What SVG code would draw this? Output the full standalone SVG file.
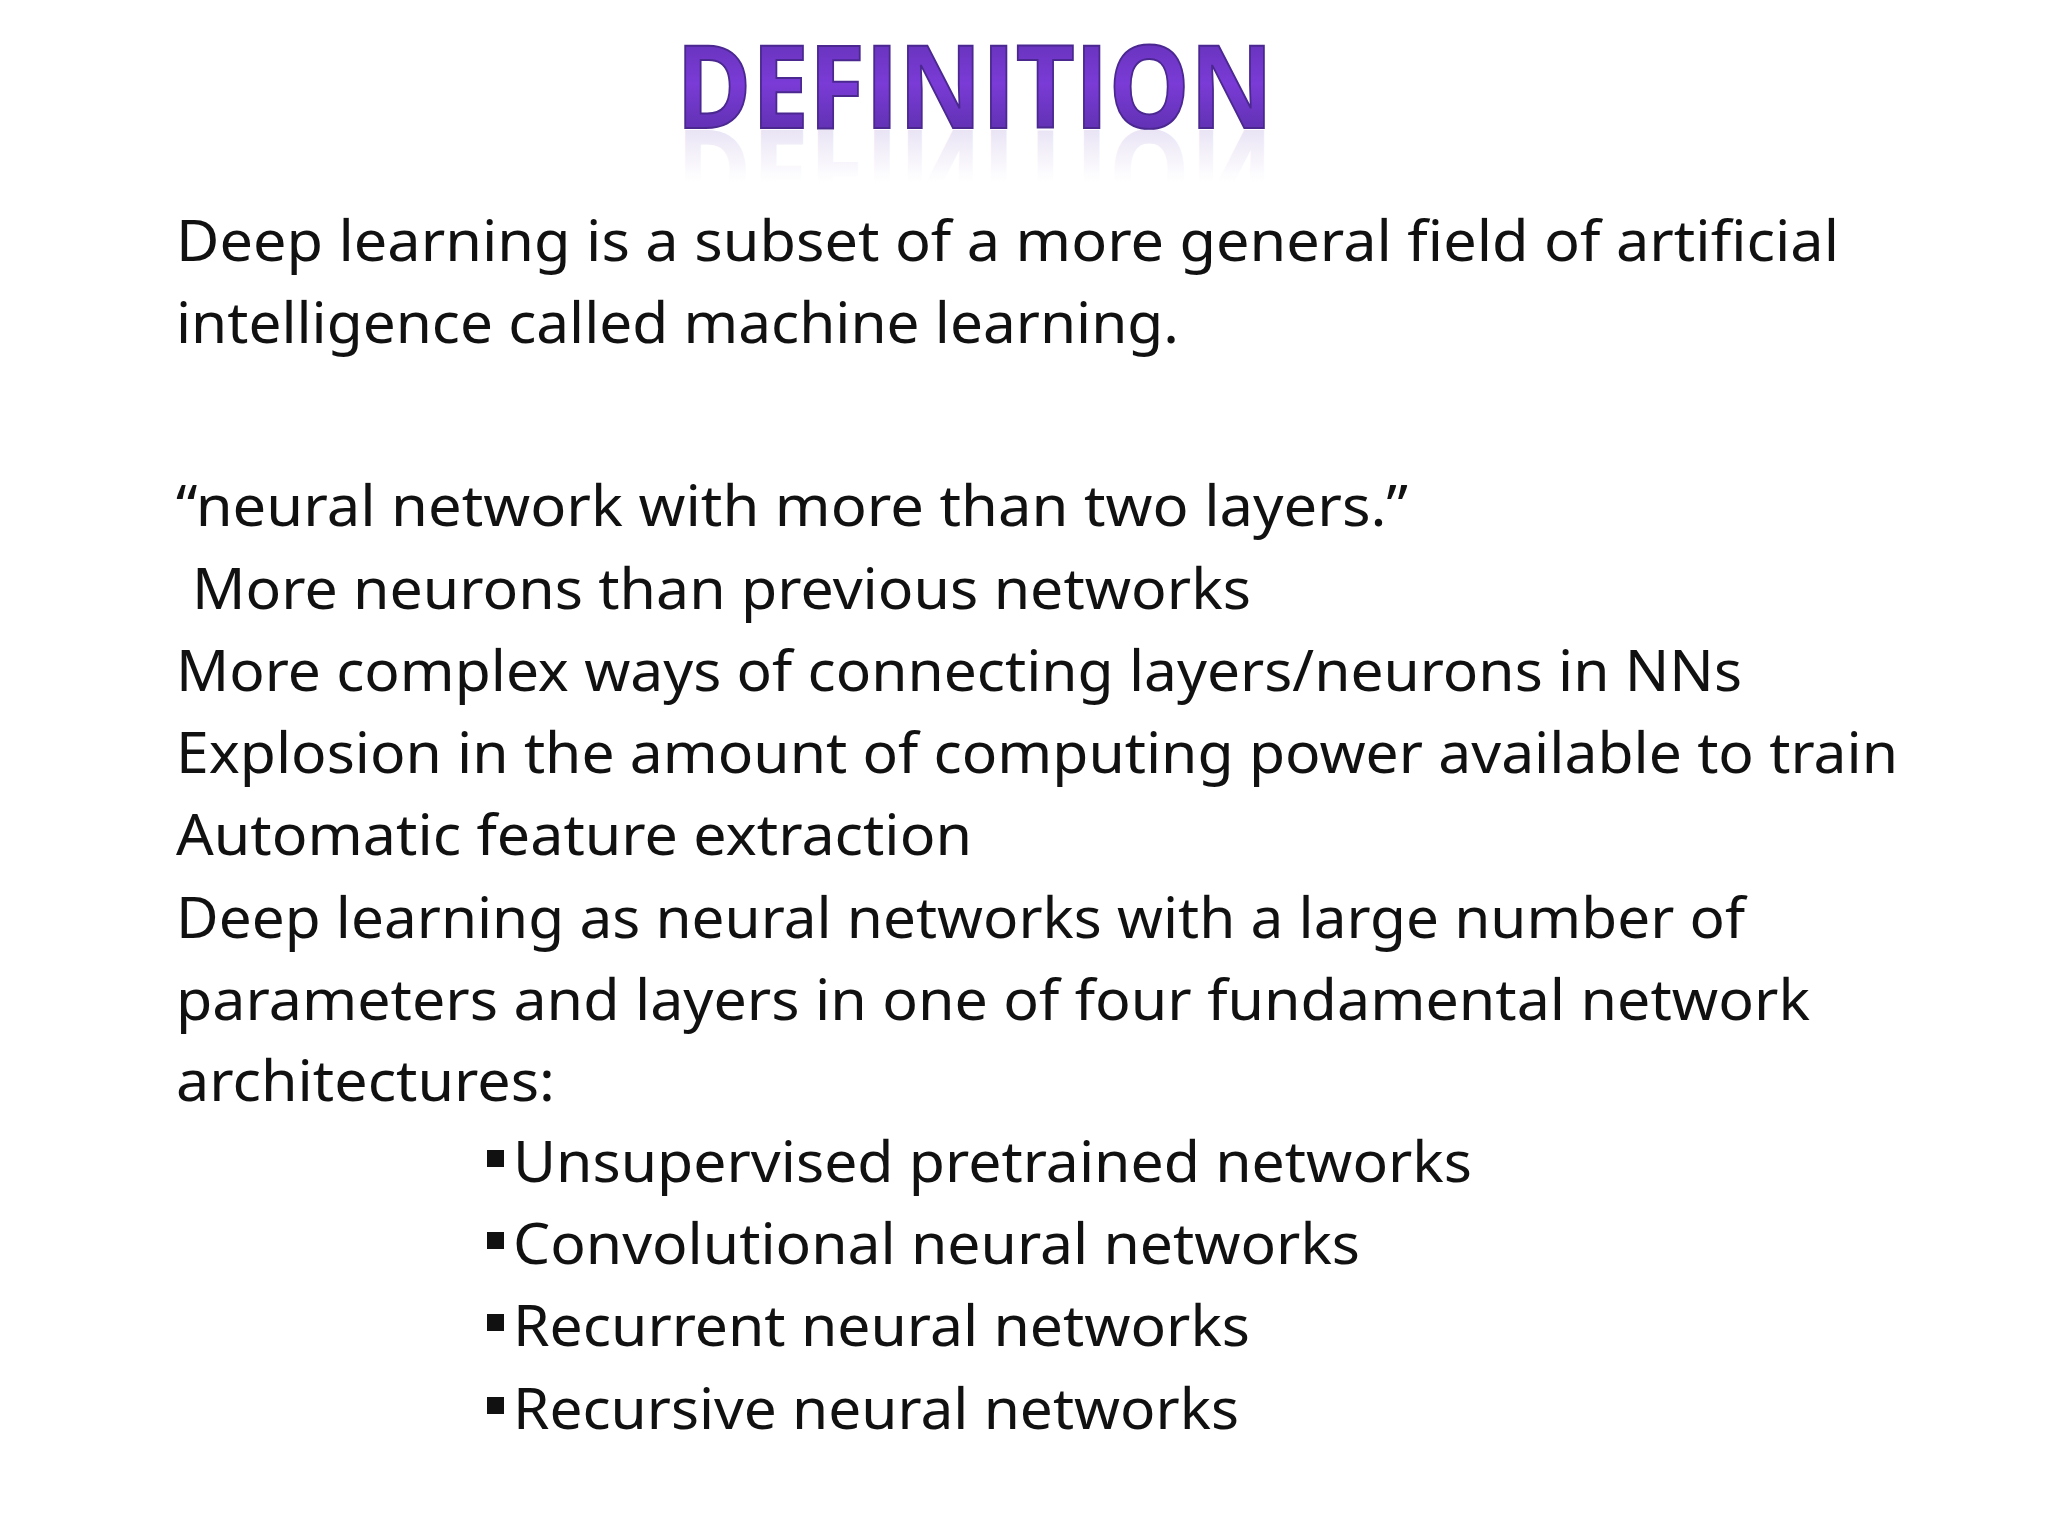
<svg xmlns="http://www.w3.org/2000/svg" width="2048" height="1536" viewBox="0 0 2048 1536">
<defs>
<linearGradient id="tg" x1="0" y1="0" x2="0" y2="1"><stop offset="0" stop-color="#5a2da8"/><stop offset="0.5" stop-color="#7a3bd6"/><stop offset="1" stop-color="#4f2a9a"/></linearGradient>
<linearGradient id="rg" x1="0" y1="0" x2="0" y2="1"><stop offset="0" stop-color="#c8b8e6" stop-opacity="0"/><stop offset="0.45" stop-color="#c8b8e6" stop-opacity="0"/><stop offset="1" stop-color="#b9a6dc" stop-opacity="0.55"/></linearGradient>
<style>
.b{font-family:"Noto Sans","Open Sans",sans-serif;font-size:56px;fill:#111}
.t{font-family:"Open Sans","Liberation Sans",sans-serif;font-weight:bold;font-size:115px}
</style>
</defs>
<rect width="2048" height="1536" fill="#fff"/>
<g id="title">
<text class="t" x="676" y="128" textLength="597" lengthAdjust="spacingAndGlyphs" fill="url(#tg)" stroke="#4a2890" stroke-width="2">DEFINITION</text>
<text class="t" x="676" y="128" textLength="597" lengthAdjust="spacingAndGlyphs" fill="url(#rg)" transform="translate(0,258) scale(1,-1)">DEFINITION</text>
</g>
<g id="body">
<text class="b" x="176" y="261" textLength="1663" lengthAdjust="spacingAndGlyphs">Deep learning is a subset of a more general field of artificial</text>
<text class="b" x="176" y="343" textLength="1003" lengthAdjust="spacingAndGlyphs">intelligence called machine learning.</text>
<text class="b" x="176" y="526" textLength="1232" lengthAdjust="spacingAndGlyphs">“neural network with more than two layers.”</text>
<text class="b" x="192" y="609" textLength="1059" lengthAdjust="spacingAndGlyphs">More neurons than previous networks</text>
<text class="b" x="176" y="691" textLength="1566" lengthAdjust="spacingAndGlyphs">More complex ways of connecting layers/neurons in NNs</text>
<text class="b" x="176" y="773" textLength="1722" lengthAdjust="spacingAndGlyphs">Explosion in the amount of computing power available to train</text>
<text class="b" x="176" y="855" textLength="796" lengthAdjust="spacingAndGlyphs">Automatic feature extraction</text>
<text class="b" x="176" y="938" textLength="1569" lengthAdjust="spacingAndGlyphs">Deep learning as neural networks with a large number of</text>
<text class="b" x="176" y="1020" textLength="1634" lengthAdjust="spacingAndGlyphs">parameters and layers in one of four  fundamental network</text>
<text class="b" x="176" y="1101" textLength="379" lengthAdjust="spacingAndGlyphs">architectures:</text>
</g>
<g id="bullets" fill="#111">
<rect x="487" y="1150" width="17" height="17"/>
<text class="b" x="513" y="1182" textLength="959" lengthAdjust="spacingAndGlyphs">Unsupervised pretrained networks</text>
<rect x="487" y="1232" width="17" height="17"/>
<text class="b" x="513" y="1264" textLength="847" lengthAdjust="spacingAndGlyphs">Convolutional neural networks</text>
<rect x="487" y="1314" width="17" height="17"/>
<text class="b" x="513" y="1346" textLength="737" lengthAdjust="spacingAndGlyphs">Recurrent neural networks</text>
<rect x="487" y="1397" width="17" height="17"/>
<text class="b" x="513" y="1429" textLength="726" lengthAdjust="spacingAndGlyphs">Recursive neural networks</text>
</g>
</svg>
